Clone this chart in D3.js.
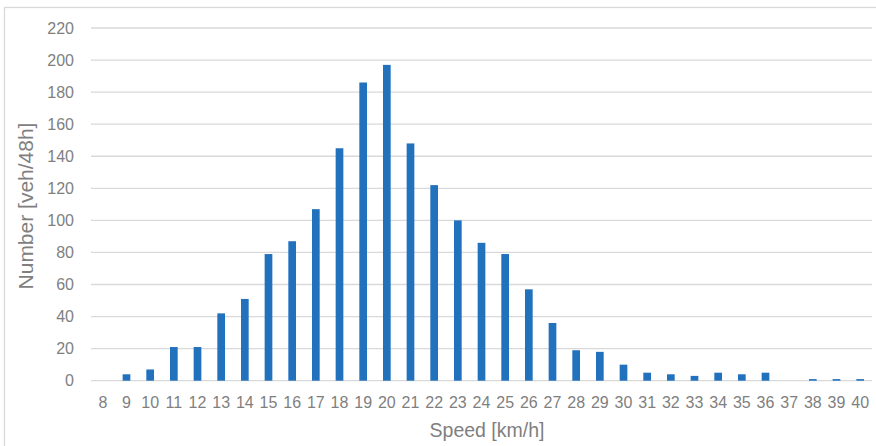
<!DOCTYPE html>
<html>
<head>
<meta charset="utf-8">
<script src="https://cdn.jsdelivr.net/npm/d3@7"></script>
<style>
  html, body { margin: 0; padding: 0; background: #fff; }
  svg { display: block; }
  text { font-family: "Liberation Sans", Arial, sans-serif; }
</style>
</head>
<body>
<svg id="chart" width="876" height="446"></svg>
<script>
// Speed classes (km/h) and vehicle counts over 48 hours
const speeds = [8, 9, 10, 11, 12, 13, 14, 15, 16, 17, 18, 19, 20, 21, 22, 23, 24,
                25, 26, 27, 28, 29, 30, 31, 32, 33, 34, 35, 36, 37, 38, 39, 40];
const counts = [0, 4, 7, 21, 21, 42, 51, 79, 87, 107, 145, 186, 197, 148, 122, 100, 86,
                79, 57, 36, 19, 18, 10, 5, 4, 3, 5, 4, 5, 0, 1, 1, 1];
const yTicks = [0, 20, 40, 60, 80, 100, 120, 140, 160, 180, 200, 220];
const xTitle = "Speed [km/h]";
const yTitle = "Number [veh/48h]";

const svg = d3.select("#chart");
const W = 876, H = 446;
const plot = { left: 91, right: 872, top: 28, bottom: 380.7 };
const textColor = "#7f7f7f";

// Chart area frame
svg.append("rect")
  .attr("x", 4.5).attr("y", 7.5)
  .attr("width", W).attr("height", H)
  .attr("fill", "#fff")
  .attr("stroke", "#d9d9d9").attr("stroke-width", 1.3);

const x = d3.scaleBand()
  .domain(speeds)
  .range([plot.left, plot.right])
  .paddingInner(0.675)
  .paddingOuter(0.3375);

const y = d3.scaleLinear()
  .domain([0, 220])
  .range([plot.bottom, plot.top]);

// Horizontal gridlines
svg.append("g")
  .selectAll("line")
  .data(yTicks)
  .join("line")
  .attr("x1", plot.left).attr("x2", plot.right)
  .attr("y1", d => y(d)).attr("y2", d => y(d))
  .attr("stroke", "#d9d9d9").attr("stroke-width", 1.3);

// Y axis labels
const yAxis = d3.axisLeft(y).tickValues(yTicks).tickSize(0).tickPadding(0);
svg.append("g")
  .attr("transform", `translate(74,0)`)
  .call(yAxis)
  .call(g => g.select(".domain").remove())
  .call(g => g.selectAll("text")
    .attr("fill", textColor)
    .attr("font-size", 16)
    .attr("font-family", "Liberation Sans, Arial, sans-serif"));

// X axis labels
const xAxis = d3.axisBottom(x).tickSize(0).tickPadding(0);
svg.append("g")
  .attr("transform", `translate(0,396.6)`)
  .call(xAxis)
  .call(g => g.select(".domain").remove())
  .call(g => g.selectAll("text")
    .attr("fill", textColor)
    .attr("font-size", 16)
    .attr("font-family", "Liberation Sans, Arial, sans-serif"));

// Bars
svg.append("g")
  .selectAll("rect")
  .data(speeds.map((s, i) => ({ s, v: counts[i] })))
  .join("rect")
  .attr("x", d => x(d.s))
  .attr("width", x.bandwidth())
  .attr("y", d => y(d.v))
  .attr("height", d => y(0) - y(d.v))
  .attr("fill", "#2271bd");

// Axis titles
svg.append("text")
  .attr("x", 487)
  .attr("y", 437)
  .attr("text-anchor", "middle")
  .attr("fill", textColor)
  .attr("font-size", 19.5)
  .text(xTitle);

svg.append("text")
  .attr("transform", `translate(32.5,206) rotate(-90)`)
  .attr("text-anchor", "middle")
  .attr("fill", textColor)
  .attr("font-size", 21)
  .text(yTitle);
</script>
</body>
</html>
